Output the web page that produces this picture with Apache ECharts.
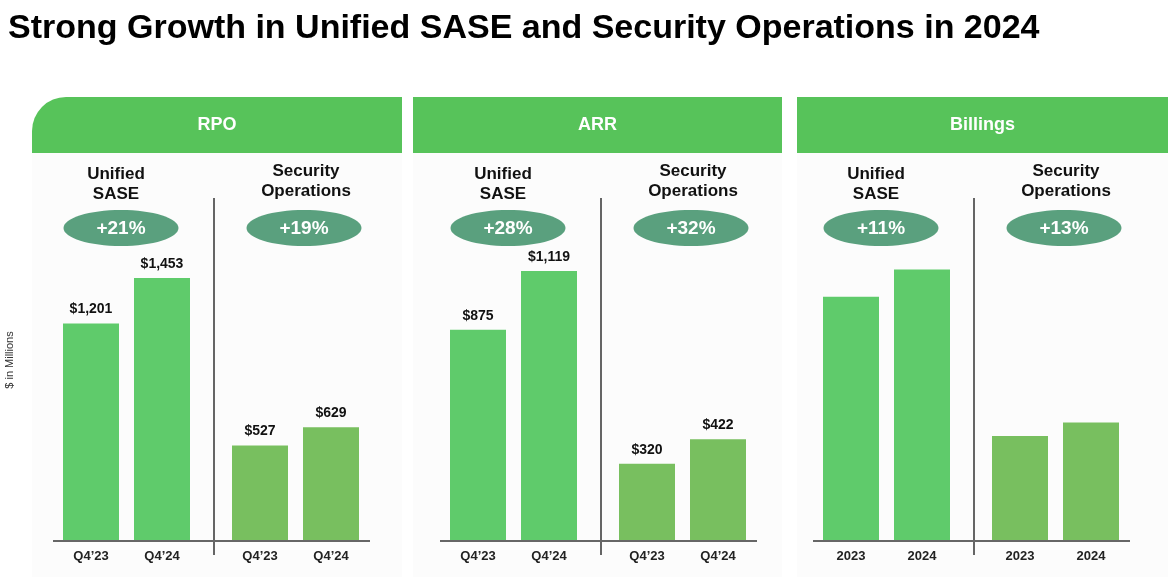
<!DOCTYPE html>
<html>
<head>
<meta charset="utf-8">
<title>Strong Growth in Unified SASE and Security Operations in 2024</title>
<script src="https://cdn.jsdelivr.net/npm/echarts@6/dist/echarts.min.js"></script>
<style>
  html, body { margin: 0; padding: 0; background: #fff; }
  #chart { width: 1172px; height: 578px; }
</style>
</head>
<body>
<div id="chart"></div>
<script>
// values in $ millions
const panelNames = ['RPO', 'ARR', 'Billings'];
const quarterLabels = ['Q4\u201923', 'Q4\u201924'];
const yearLabels = ['2023', '2024'];

const rpoUnified = [1201, 1453];
const rpoSecOps = [527, 629];
const arrUnified = [875, 1119];
const arrSecOps = [320, 422];
// billings has no printed values
const billingsUnified = [1350, 1500];
const billingsSecOps = [580, 655];

const rpoGrowth = ['+21%', '+19%'];
const arrGrowth = ['+28%', '+32%'];
const billingsGrowth = ['+11%', '+13%'];

const FONT = '"Liberation Sans", Arial, sans-serif';
const HEADER_GREEN = '#57c35a';
const UNIFIED_GREEN = '#5fcb6b';
const SECOPS_GREEN = '#78bf5f';
const PILL_GREEN = '#5aa07e';

// layout for each panel: x offset of the plot, and box edges
const panels = [
    { name: panelNames[0], cats: quarterLabels, unified: rpoUnified, secops: rpoSecOps, growth: rpoGrowth, max: 2000, off: 0, box: [32, 402], labels: true, rounded: true },
    { name: panelNames[1], cats: quarterLabels, unified: arrUnified, secops: arrSecOps, growth: arrGrowth, max: 1500, off: 387, box: [413, 782], labels: true },
    { name: panelNames[2], cats: yearLabels, unified: billingsUnified, secops: billingsSecOps, growth: billingsGrowth, max: 2000, off: 760, box: [797, 1168], labels: false }
];

const GRID_TOP = 179;
const GRID_BOTTOM = 37;
const BASE_Y = 578 - GRID_BOTTOM;

const grids = [], xAxes = [], yAxes = [], series = [];
const graphics = [];

graphics.push({
    type: 'text', left: 8, top: 12, z: 10,
    style: { text: 'Strong Growth in Unified SASE and Security Operations in 2024', font: 'bold 34px ' + FONT, fill: '#000' }
});
graphics.push({
    type: 'text', x: 10, y: 360, rotation: Math.PI / 2, z: 10,
    style: { text: '$ in Millions', font: '11px ' + FONT, fill: '#333', align: 'center', verticalAlign: 'middle' }
});

panels.forEach((p, i) => {
    const [x0, x1] = p.box;
    const o = p.off;
    // panel background and header tab
    graphics.push({ type: 'rect', z: -10, shape: { x: x0, y: 153, width: x1 - x0, height: 424 }, style: { fill: '#fcfcfc' } });
    graphics.push({ type: 'rect', z: -9, shape: { x: x0, y: 97, width: x1 - x0, height: 56, r: p.rounded ? [34, 0, 0, 0] : 0 }, style: { fill: HEADER_GREEN } });
    graphics.push({ type: 'text', z: 5, x: (x0 + x1) / 2, y: 125, style: { text: p.name, font: 'bold 18px ' + FONT, fill: '#fff', align: 'center', verticalAlign: 'middle' } });

    // group titles
    graphics.push({ type: 'text', z: 5, x: 116 + o, y: 184, style: { text: 'Unified\nSASE', font: 'bold 17px ' + FONT, lineHeight: 20, fill: '#111', align: 'center', verticalAlign: 'middle' } });
    graphics.push({ type: 'text', z: 5, x: 306 + o, y: 181, style: { text: 'Security\nOperations', font: 'bold 17px ' + FONT, lineHeight: 20, fill: '#111', align: 'center', verticalAlign: 'middle' } });

    // growth pills
    [121 + o, 304 + o].forEach((cx, k) => {
        graphics.push({ type: 'ellipse', z: 4, shape: { cx: cx, cy: 228, rx: 57.5, ry: 18 }, style: { fill: PILL_GREEN } });
        graphics.push({ type: 'text', z: 5, x: cx, y: 229, style: { text: p.growth[k], font: 'bold 19px ' + FONT, fill: '#fff', align: 'center', verticalAlign: 'middle' } });
    });

    // divider and baseline
    graphics.push({ type: 'line', z: 6, shape: { x1: 214 + o, y1: 198, x2: 214 + o, y2: 555 }, style: { stroke: '#333', lineWidth: 1.5 } });
    graphics.push({ type: 'line', z: 6, shape: { x1: 53 + o, y1: BASE_Y, x2: 370 + o, y2: BASE_Y }, style: { stroke: '#666', lineWidth: 2 } });

    [[55.5 + o, p.unified, UNIFIED_GREEN], [224.5 + o, p.secops, SECOPS_GREEN]].forEach(([left, data, color]) => {
        const idx = grids.length;
        grids.push({ left: left, width: 142, top: GRID_TOP, bottom: GRID_BOTTOM });
        xAxes.push({
            type: 'category', gridIndex: idx, data: p.cats,
            axisLine: { show: false }, axisTick: { show: false },
            axisLabel: { color: '#222', fontWeight: 'bold', fontSize: 13, fontFamily: FONT, margin: 9 }
        });
        yAxes.push({ type: 'value', gridIndex: idx, min: 0, max: p.max, show: false, splitLine: { show: false } });
        series.push({
            type: 'bar', xAxisIndex: idx, yAxisIndex: idx, data: data,
            barWidth: 56, itemStyle: { color: color },
            label: {
                show: p.labels, position: 'top', distance: 7,
                color: '#111', fontWeight: 'bold', fontSize: 14, fontFamily: FONT,
                formatter: d => '$' + d.value.toLocaleString('en-US')
            }
        });
    });
});

const chart = echarts.init(document.getElementById('chart'));
chart.setOption({
    animation: false,
    backgroundColor: '#fff',
    grid: grids,
    xAxis: xAxes,
    yAxis: yAxes,
    series: series,
    graphic: graphics
});
</script>
</body>
</html>
